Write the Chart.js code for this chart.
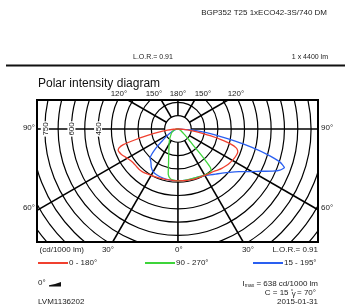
<!DOCTYPE html>
<html>
<head>
<meta charset="utf-8">
<script src="https://cdn.jsdelivr.net/npm/chart.js@4.4.0/dist/chart.umd.min.js"></script>
<style>
  body { margin: 0; background: #fff; }
  canvas { display: block; }
</style>
</head>
<body>
<canvas id="polarChart" width="347" height="308"></canvas>
<script>
// Half planes: gamma angle (deg, 0 = straight down) and intensity (cd/1000 lm)
// C0 / C180  (red)
const gammaC0 = [0, 5, 10, 15, 20, 25, 30, 35, 40, 44, 48, 53, 56, 60, 63, 66, 68, 70, 72, 74, 76, 78, 80, 83, 86, 90];
const cdC0 = [293, 293, 294, 296, 298, 299, 302, 307, 313, 322, 332, 342, 348, 354, 358, 361, 362, 358, 345, 310, 250, 190, 135, 75, 30, 0];
const gammaC180 = [0, 5, 10, 15, 20, 25, 30, 35, 40, 44, 48, 53, 56, 60, 63, 66, 68, 70, 72, 74, 76, 78, 80, 83, 86, 90];
const cdC180 = [293, 292, 292, 293, 295, 298, 302, 308, 314, 316, 315, 316, 320, 330, 340, 350, 355, 358, 350, 320, 240, 170, 115, 60, 25, 0];
// C90 / C270  (green)
const gammaC90 = [0, 5, 10, 15, 20, 25, 30, 35, 38, 40, 41, 42, 43, 45, 48, 51, 55, 60, 70, 80, 90];
const cdC90 = [293, 292, 291, 291, 292, 295, 300, 304, 302, 285, 240, 180, 125, 90, 60, 38, 27, 18, 8, 3, 0];
const gammaC270 = [0, 5, 9, 12, 15, 20, 25, 30, 40, 50, 60, 70, 80, 90];
const cdC270 = [293, 290, 282, 262, 205, 152, 120, 100, 72, 52, 40, 28, 14, 0];
// C15 / C195  (blue)
const gammaC15 = [0, 10, 20, 30, 35, 40, 45, 50, 55, 60, 63, 66, 68, 70, 72, 74, 76, 78, 80, 83, 86, 90];
const cdC15 = [293, 293, 293, 303, 316, 332, 352, 380, 420, 480, 525, 585, 620, 638, 605, 525, 430, 330, 240, 140, 60, 0];
const gammaC195 = [0, 10, 17, 25, 30, 35, 39, 42, 44, 46, 48, 50, 53, 56, 60, 64, 67, 72, 78, 84, 90];
const cdC195 = [293, 291, 289, 285, 279, 262, 242, 232, 226, 205, 178, 150, 108, 85, 62, 42, 30, 20, 10, 4, 0];

const seriesLabels = ["0 - 180°", "90 - 270°", "15 - 195°"];
const ringValues = [75, 150, 225, 300, 375, 450, 525, 600, 675, 750, 825, 900, 975, 1050, 1125];
const ringTickValues = [450, 600, 750];
const spokeAngles = [0, 30, 60, 90, 120, 150, 180, 210, 240, 270, 300, 330];
const topAngleLabels = ["120°", "150°", "180°", "150°", "120°"];
const bottomAngleLabels = ["30°", "0°", "30°"];

const FONT = '"Liberation Sans", Arial, sans-serif';
const rad = d => d * Math.PI / 180;

// polar half planes -> x/y values (left half reversed so the curve is closed)
function polarCurve(gL, cL, gR, cR) {
    const pts = [];
    for (let i = gL.length - 1; i >= 0; i--) {
        pts.push({ x: -cL[i] * Math.sin(rad(gL[i])), y: -cL[i] * Math.cos(rad(gL[i])) });
    }
    for (let i = 0; i < gR.length; i++) {
        pts.push({ x: cR[i] * Math.sin(rad(gR[i])), y: -cR[i] * Math.cos(rad(gR[i])) });
    }
    return pts;
}

const polarGrid = {
    id: 'polarGrid',
    beforeDatasetsDraw(chart) {
        const { ctx, chartArea: a, scales: { x, y } } = chart;
        const cx = x.getPixelForValue(0);
        const cy = y.getPixelForValue(0);
        const r = v => x.getPixelForValue(v) - cx;

        ctx.save();
        ctx.beginPath();
        ctx.rect(a.left, a.top, a.right - a.left, a.bottom - a.top);
        ctx.clip();
        ctx.strokeStyle = '#000';
        ctx.lineWidth = 1.2;
        ringValues.forEach(v => {
            ctx.beginPath();
            ctx.arc(cx, cy, r(v), 0, Math.PI * 2);
            ctx.stroke();
        });
        ctx.lineWidth = 1.6;
        spokeAngles.forEach(g => {
            const r0 = r(ringValues[0]), r1 = r(1400);
            ctx.beginPath();
            ctx.moveTo(cx + r0 * Math.sin(rad(g)), cy + r0 * Math.cos(rad(g)));
            ctx.lineTo(cx + r1 * Math.sin(rad(g)), cy + r1 * Math.cos(rad(g)));
            ctx.stroke();
        });

        // intensity values along the left 90 deg line
        ctx.font = '8px ' + FONT;
        ctx.textAlign = 'center';
        ctx.textBaseline = 'middle';
        ringTickValues.forEach(v => {
            const px = cx - r(v);
            const w = ctx.measureText(String(v)).width;
            ctx.save();
            ctx.translate(px, cy);
            ctx.rotate(-Math.PI / 2);
            ctx.fillStyle = '#fff';
            ctx.fillRect(-w / 2 - 1, -4, w + 2, 8);
            ctx.fillStyle = '#222';
            ctx.fillText(String(v), 0, 0.5);
            ctx.restore();
        });
        ctx.restore();
    },
    afterDraw(chart) {
        const { ctx, chartArea: a, scales: { x, y } } = chart;
        const cx = x.getPixelForValue(0);
        const cy = y.getPixelForValue(0);
        ctx.save();

        // frame
        ctx.strokeStyle = '#000';
        ctx.lineWidth = 2;
        ctx.strokeRect(a.left, a.top, a.right - a.left, a.bottom - a.top);

        // header
        ctx.fillStyle = '#222';
        ctx.textBaseline = 'middle';
        ctx.font = '8px ' + FONT;
        ctx.textAlign = 'right';
        ctx.fillText('BGP352 T25 1xECO42-3S/740 DM', 327, 13);
        ctx.font = '7px ' + FONT;
        ctx.fillText('1 x 4400 lm', 328, 57);
        ctx.textAlign = 'left';
        ctx.fillText('L.O.R.= 0.91', 133, 57);
        ctx.fillStyle = '#111';
        ctx.fillRect(6, 64.5, 339, 2);

        ctx.fillStyle = '#111';
        ctx.font = '12px ' + FONT;
        ctx.textAlign = 'left';
        ctx.textBaseline = 'alphabetic';
        ctx.fillText('Polar intensity diagram', 38, 87);

        // angle labels
        ctx.fillStyle = '#222';
        ctx.font = '8px ' + FONT;
        ctx.textBaseline = 'middle';
        ctx.textAlign = 'center';
        const topX = [cx - 59, cx - 24, cx, cx + 25, cx + 58];
        topAngleLabels.forEach((t, i) => ctx.fillText(t, topX[i], a.top - 6));
        const botX = [cx - 70, cx + 1, cx + 70];
        bottomAngleLabels.forEach((t, i) => ctx.fillText(t, botX[i], a.bottom + 8));
        ctx.textAlign = 'right';
        ctx.fillText('90°', a.left - 2, cy - 1);
        ctx.fillText('60°', a.left - 2, cy + 79);
        ctx.fillText('(cd/1000 lm)', 84, a.bottom + 8);
        ctx.fillText('L.O.R.= 0.91', a.right, a.bottom + 8);
        ctx.textAlign = 'left';
        ctx.fillText('90°', a.right + 3, cy - 1);
        ctx.fillText('60°', a.right + 3, cy + 79);

        // legend
        const legX = [38, 145, 253];
        chart.data.datasets.forEach((ds, i) => {
            ctx.strokeStyle = ds.borderColor;
            ctx.lineWidth = 2;
            ctx.beginPath();
            ctx.moveTo(legX[i], 263);
            ctx.lineTo(legX[i] + 30, 263);
            ctx.stroke();
            ctx.fillStyle = '#222';
            ctx.fillText(ds.label, legX[i] + 31, 262.5);
        });

        // footer
        ctx.fillText('0°', 38, 283);
        ctx.fillStyle = '#111';
        ctx.beginPath();
        ctx.moveTo(49, 286.5);
        ctx.lineTo(61, 286.5);
        ctx.lineTo(61, 282);
        ctx.lineTo(55, 284);
        ctx.lineTo(49, 285.2);
        ctx.closePath();
        ctx.fill();

        ctx.fillStyle = '#222';
        ctx.fillText('LVM1136202', 38, 302);
        ctx.textAlign = 'right';
        ctx.fillText('2015-01-31', 318, 302);

        const rest = ' = 638 cd/1000 lm';
        const wRest = ctx.measureText(rest).width;
        const wI = ctx.measureText('I').width;
        ctx.font = '5px ' + FONT;
        const wSub = ctx.measureText('max').width;
        ctx.textAlign = 'left';
        let sx = 318 - wRest - wSub - wI;
        ctx.font = '8px ' + FONT;
        ctx.fillText('I', sx, 284);
        ctx.font = '5px ' + FONT;
        ctx.fillText('max', sx + wI, 286);
        ctx.font = '8px ' + FONT;
        ctx.fillText(rest, sx + wI + wSub, 284);

        const c1 = 'C = 15 ', c3 = ' = 70°';
        const w1 = ctx.measureText(c1).width, w3 = ctx.measureText(c3).width;
        const wg = ctx.measureText('γ').width;
        sx = 316 - w1 - w3 - wg;
        ctx.fillText(c1, sx, 293);
        ctx.font = '6px ' + FONT;
        ctx.fillText('°', sx + w1, 291);
        ctx.font = '8px ' + FONT;
        ctx.fillText('γ', sx + w1 + 1, 294);
        ctx.fillText(c3, sx + w1 + wg, 293);

        ctx.restore();
    }
};

new Chart(document.getElementById('polarChart').getContext('2d'), {
    type: 'scatter',
    data: {
        datasets: [
            {
                label: seriesLabels[0],
                data: polarCurve(gammaC180, cdC180, gammaC0, cdC0),
                borderColor: '#f0402f',
            },
            {
                label: seriesLabels[1],
                data: polarCurve(gammaC270, cdC270, gammaC90, cdC90),
                borderColor: '#3ed43a',
            },
            {
                label: seriesLabels[2],
                data: polarCurve(gammaC195, cdC195, gammaC15, cdC15),
                borderColor: '#2a5ff0',
            },
        ].map(ds => Object.assign(ds, {
            showLine: true,
            pointRadius: 0,
            borderWidth: 1.3,
            fill: false,
            tension: 0.15,
        })),
    },
    options: {
        responsive: false,
        animation: false,
        events: [],
        layout: {
            padding: { left: 37, right: 29, top: 100, bottom: 66 },
        },
        plugins: {
            legend: { display: false },
            tooltip: { enabled: false },
        },
        scales: {
            x: { type: 'linear', display: false, min: -794, max: 789 },
            y: { type: 'linear', display: false, min: -637, max: 163 },
        },
    },
    plugins: [polarGrid],
});
</script>
</body>
</html>
